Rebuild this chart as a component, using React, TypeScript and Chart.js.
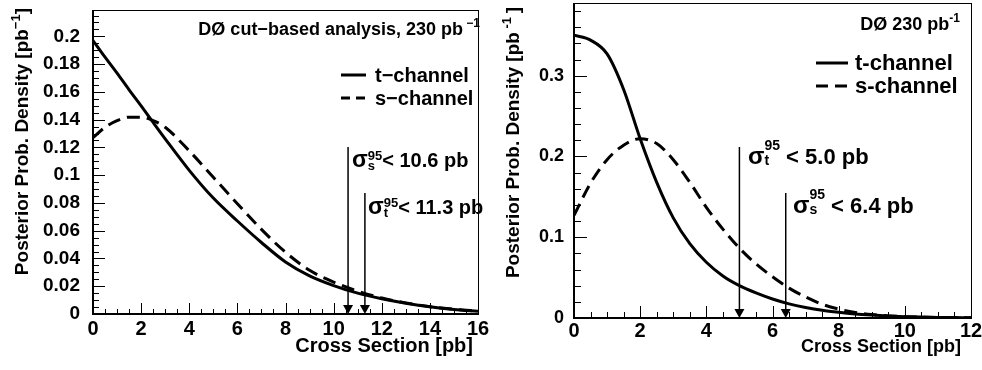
import React, { useEffect, useRef } from 'react';
import { Chart, registerables } from 'chart.js';

Chart.register(...registerables);

const FONT = '"Liberation Sans", Arial, Helvetica, sans-serif';

// ---------------- Left panel: DØ cut-based analysis ----------------
const leftX = [0, 0.5, 1, 1.5, 2, 2.5, 3, 4, 5, 6, 7, 8, 9, 10, 11, 12, 13, 14, 15, 16];
const leftTChannel = [0.197, 0.185, 0.1735, 0.1615, 0.15, 0.138, 0.1262, 0.1035, 0.0835, 0.067, 0.0515, 0.0375, 0.0275, 0.0205, 0.015, 0.011, 0.0078, 0.0052, 0.0033, 0.002];
const leftSChannel = [0.127, 0.1345, 0.1393, 0.1418, 0.1418, 0.1393, 0.1345, 0.1175, 0.0985, 0.0795, 0.061, 0.0445, 0.0315, 0.023, 0.0165, 0.0115, 0.008, 0.0053, 0.0034, 0.002];
const leftLimitChannels = ['s', 't'];
const leftLimitValues = [10.6, 11.3];
const leftTitle = 'D\u00d8 cut\u2212based analysis, 230 pb';
const leftTitleSup = ' \u22121';
const leftLegendLabels = ['t\u2212channel', 's\u2212channel'];
const leftYTitleSup = '\u22121';

// ---------------- Right panel: DØ 230 pb-1 ----------------
const rightX = [0, 0.5, 1, 1.5, 2, 2.5, 3, 3.5, 4, 4.5, 5, 5.5, 6, 6.5, 7, 7.5, 8, 8.5, 9, 9.5, 10, 10.5, 11, 11.5, 12];
const rightTChannel = [0.35, 0.344, 0.327, 0.283, 0.222, 0.168, 0.124, 0.092, 0.069, 0.052, 0.04, 0.031, 0.0235, 0.0175, 0.013, 0.0095, 0.007, 0.005, 0.0036, 0.0025, 0.0017, 0.0011, 0.0007, 0.0005, 0.0003];
const rightSChannel = [0.127, 0.167, 0.196, 0.214, 0.222, 0.216, 0.196, 0.168, 0.137, 0.11, 0.0865, 0.067, 0.051, 0.037, 0.026, 0.017, 0.011, 0.0068, 0.0042, 0.0026, 0.0016, 0.001, 0.0006, 0.0004, 0.0002];
const rightLimitChannels = ['t', 's'];
const rightLimitValues = [5.0, 6.4];
const rightTitle = 'D\u00d8 230 pb';
const rightTitleSup = '-1';
const rightLegendLabels = ['t-channel', 's-channel'];
const rightYTitleSup = ' -1 ';

const xAxisTitle = 'Cross Section [pb]';
const yAxisTitle = 'Posterior Prob. Density [pb';

// ---------------- layout / style (positions only) ----------------
const LEFT_LAYOUT = {
  offset: 0,
  width: 491,
  height: 370,
  area: { left: 93, right: 478, top: 10, bottom: 314 },
  xMax: 16, xStep: 2, xMinor: 0.5,
  yMax: 0.219, yStep: 0.02, yMinor: 0.005,
  yTickFont: 19, xTickFont: 20, yTickPad: 5, xTickPad: -5,
  yMajorLen: 12, yMinorLen: 6, xMajorLen: 11, xMinorLen: 5,
  dash: [13, 7], lineWidth: 3,
  title: { right: 480, base: 35, size: 18, supSize: 12, supDy: -8 },
  legend: { x1: 341, x2: 366, textX: 375, rows: [75, 98], size: 20, dash: [9, 6] },
  limits: [{ textX: 352, base: 167, top: 147 }, { textX: 368, base: 214, top: 193 }],
  limitSize: 20, sigmaSize: 23, scriptSize: 13, supDy: -7, subDy: 3, limitSpace: '',
  xTitle: { right: 473, base: 352, size: 20 },
  yTitle: { x: 28, top: 8, size: 19, supSize: 13, supDy: -8 },
};

const RIGHT_LAYOUT = {
  offset: 491,
  width: 491,
  height: 370,
  area: { left: 83, right: 480, top: 3, bottom: 318 },
  xMax: 12, xStep: 2, xMinor: 0.5,
  yMax: 0.39, yStep: 0.1, yMinor: 0.02,
  yTickFont: 18, xTickFont: 20, yTickPad: 2, xTickPad: -7,
  yMajorLen: 13, yMinorLen: 7, xMajorLen: 12, xMinorLen: 6,
  dash: [13, 7], lineWidth: 3,
  title: { right: 469, base: 30, size: 18, supSize: 12, supDy: -8 },
  legend: { x1: 325, x2: 357, textX: 364, rows: [63, 86], size: 22, dash: [12, 7] },
  limits: [{ textX: 257, base: 164, top: 147 }, { textX: 302, base: 213, top: 193 }],
  limitSize: 22, sigmaSize: 24, scriptSize: 14, supDy: -14, subDy: 1, limitSpace: ' ',
  xTitle: { right: 470, base: 352, size: 18 },
  yTitle: { x: 28, top: 7, size: 19, supSize: 13, supDy: -8 },
};

type Part =
  | { text: string; size: number; dy?: number }
  | { sup: string; sub: string; size: number; supDy: number; subDy: number };

const fnt = (size: number) => `bold ${size}px ${FONT}`;

function partWidth(ctx: CanvasRenderingContext2D, p: Part): number {
  ctx.font = fnt(p.size);
  if ('sup' in p) return Math.max(ctx.measureText(p.sup).width, ctx.measureText(p.sub).width);
  return ctx.measureText(p.text).width;
}

function drawParts(ctx: CanvasRenderingContext2D, parts: Part[], x: number, y: number, align: 'left' | 'right') {
  const total = parts.reduce((s, p) => s + partWidth(ctx, p), 0);
  let cx = align === 'right' ? x - total : x;
  ctx.textAlign = 'left';
  ctx.textBaseline = 'alphabetic';
  ctx.fillStyle = '#000';
  for (const p of parts) {
    const w = partWidth(ctx, p);
    ctx.font = fnt(p.size);
    if ('sup' in p) {
      ctx.fillText(p.sup, cx, y + p.supDy);
      ctx.fillText(p.sub, cx, y + p.subDy);
    } else {
      ctx.fillText(p.text, cx, y + (p.dy || 0));
    }
    cx += w;
  }
}

function isMultiple(v: number, step: number) {
  const r = v / step;
  return Math.abs(r - Math.round(r)) < 1e-6;
}

function makeChart(canvas: HTMLCanvasElement, L: typeof LEFT_LAYOUT, xs: number[], t: number[], s: number[],
  limitCh: string[], limitVals: number[], title: string, titleSup: string, legendLabels: string[], ySup: string) {
  const decorations = {
    id: 'decorations',
    afterDatasetsDraw(chart: any) {
      const { ctx, chartArea: a, scales } = chart;
      const xs_ = scales.x;
      const ys_ = scales.y;
      ctx.save();
      ctx.strokeStyle = '#000';
      ctx.fillStyle = '#000';
      ctx.setLineDash([]);
      // inward tick marks
      ctx.lineWidth = 1;
      for (let i = 0; ; i++) {
        const v = i * L.yMinor;
        if (v > L.yMax + 1e-9) break;
        const py = Math.round(ys_.getPixelForValue(v)) + 0.5;
        const len = isMultiple(v, L.yStep) ? L.yMajorLen : L.yMinorLen;
        ctx.beginPath();
        ctx.moveTo(a.left, py);
        ctx.lineTo(a.left + len, py);
        ctx.stroke();
      }
      for (let i = 0; ; i++) {
        const v = i * L.xMinor;
        if (v > L.xMax + 1e-9) break;
        const px = Math.round(xs_.getPixelForValue(v)) + 0.5;
        const len = isMultiple(v, L.xStep) ? L.xMajorLen : L.xMinorLen;
        ctx.beginPath();
        ctx.moveTo(px, a.bottom);
        ctx.lineTo(px, a.bottom - len);
        ctx.stroke();
      }
      // frame
      ctx.lineWidth = 1;
      ctx.strokeRect(a.left + 0.5, a.top + 0.5, a.right - a.left, a.bottom - a.top);
      ctx.lineWidth = 2;
      ctx.beginPath();
      ctx.moveTo(a.left, a.top);
      ctx.lineTo(a.left, a.bottom);
      ctx.lineTo(a.right + 1, a.bottom);
      ctx.stroke();
      // limit arrows and labels
      limitVals.forEach((v, i) => {
        const px = xs_.getPixelForValue(v);
        const lim = L.limits[i];
        ctx.lineWidth = 1.5;
        ctx.beginPath();
        ctx.moveTo(px, lim.top);
        ctx.lineTo(px, a.bottom - 8);
        ctx.stroke();
        ctx.beginPath();
        ctx.moveTo(px - 5, a.bottom - 9);
        ctx.lineTo(px + 5, a.bottom - 9);
        ctx.lineTo(px, a.bottom);
        ctx.closePath();
        ctx.fill();
        drawParts(ctx, [
          { text: '\u03c3', size: L.sigmaSize },
          { sup: '95', sub: limitCh[i], size: L.scriptSize, supDy: L.supDy, subDy: L.subDy },
          { text: `${L.limitSpace}< ${v.toFixed(1)} pb`, size: L.limitSize },
        ], lim.textX, lim.base, 'left');
      });
      // legend
      const lg = L.legend;
      lg.rows.forEach((ry, i) => {
        ctx.lineWidth = L.lineWidth;
        ctx.setLineDash(i === 0 ? [] : lg.dash);
        ctx.beginPath();
        ctx.moveTo(lg.x1, ry);
        ctx.lineTo(lg.x2, ry);
        ctx.stroke();
        ctx.setLineDash([]);
        ctx.font = fnt(lg.size);
        ctx.textAlign = 'left';
        ctx.textBaseline = 'middle';
        ctx.fillText(legendLabels[i], lg.textX, ry + 1);
      });
      // title
      drawParts(ctx, [
        { text: title, size: L.title.size },
        { text: titleSup, size: L.title.supSize, dy: L.title.supDy },
      ], L.title.right, L.title.base, 'right');
      // x axis title
      drawParts(ctx, [{ text: xAxisTitle, size: L.xTitle.size }], L.xTitle.right, L.xTitle.base, 'right');
      // y axis title (rotated)
      ctx.save();
      ctx.translate(L.yTitle.x, L.yTitle.top);
      ctx.rotate(-Math.PI / 2);
      drawParts(ctx, [
        { text: yAxisTitle, size: L.yTitle.size },
        { text: ySup, size: L.yTitle.supSize, dy: L.yTitle.supDy },
        { text: ']', size: L.yTitle.size },
      ], 0, 0, 'right');
      ctx.restore();
      ctx.restore();
    },
  };

  const fmt = (v: number) => (Math.abs(v) < 1e-9 ? '0' : String(parseFloat(v.toFixed(3))));
  const zeroPad = (sc: any) => {
    sc.paddingTop = 0;
    sc.paddingBottom = 0;
    sc.paddingLeft = 0;
    sc.paddingRight = 0;
  };

  return new Chart(canvas, {
    type: 'line',
    data: {
      datasets: [
        {
          label: legendLabels[0],
          data: xs.map((x, i) => ({ x, y: t[i] })),
          borderColor: '#000',
          borderWidth: L.lineWidth,
          pointRadius: 0,
          cubicInterpolationMode: 'monotone',
          fill: false,
        },
        {
          label: legendLabels[1],
          data: xs.map((x, i) => ({ x, y: s[i] })),
          borderColor: '#000',
          borderWidth: L.lineWidth,
          borderDash: L.dash,
          pointRadius: 0,
          cubicInterpolationMode: 'monotone',
          fill: false,
        },
      ],
    },
    options: {
      animation: false,
      responsive: false,
      devicePixelRatio: 1,
      events: [],
      layout: {
        padding: { left: 0, top: L.area.top, right: L.width - L.area.right, bottom: 0 },
      },
      plugins: { legend: { display: false }, tooltip: { enabled: false }, title: { display: false } },
      scales: {
        x: {
          type: 'linear',
          min: 0,
          max: L.xMax,
          grid: { display: false },
          border: { display: false },
          ticks: {
            stepSize: L.xStep,
            includeBounds: false,
            autoSkip: false,
            maxRotation: 0,
            color: '#000',
            padding: L.xTickPad,
            font: { family: FONT, size: L.xTickFont, weight: 'bold' },
            callback: (v: any) => fmt(Number(v)),
          },
          afterFit: (sc: any) => {
            sc.height = L.height - L.area.bottom;
            zeroPad(sc);
          },
        },
        y: {
          type: 'linear',
          min: 0,
          max: L.yMax,
          grid: { display: false },
          border: { display: false },
          ticks: {
            stepSize: L.yStep,
            includeBounds: false,
            autoSkip: false,
            color: '#000',
            padding: L.yTickPad,
            font: { family: FONT, size: L.yTickFont, weight: 'bold' },
            callback: (v: any) => fmt(Number(v)),
          },
          afterFit: (sc: any) => {
            sc.width = L.area.left;
            zeroPad(sc);
          },
        },
      },
    } as any,
    plugins: [decorations],
  });
}

function Panel(props: { which: 'left' | 'right' }) {
  const ref = useRef<HTMLCanvasElement>(null);
  const L = props.which === 'left' ? LEFT_LAYOUT : RIGHT_LAYOUT;
  useEffect(() => {
    if (!ref.current) return;
    const chart =
      props.which === 'left'
        ? makeChart(ref.current, LEFT_LAYOUT, leftX, leftTChannel, leftSChannel, leftLimitChannels, leftLimitValues,
            leftTitle, leftTitleSup, leftLegendLabels, leftYTitleSup)
        : makeChart(ref.current, RIGHT_LAYOUT, rightX, rightTChannel, rightSChannel, rightLimitChannels, rightLimitValues,
            rightTitle, rightTitleSup, rightLegendLabels, rightYTitleSup);
    return () => chart.destroy();
  }, [props.which]);
  return (
    <canvas
      ref={ref}
      width={L.width}
      height={L.height}
      style={{ position: 'absolute', left: L.offset, top: 0, width: L.width, height: L.height }}
    />
  );
}

export default function App() {
  return (
    <div style={{ position: 'fixed', left: 0, top: 0, width: 982, height: 370, background: '#fff', overflow: 'hidden' }}>
      <Panel which="left" />
      <Panel which="right" />
    </div>
  );
}
